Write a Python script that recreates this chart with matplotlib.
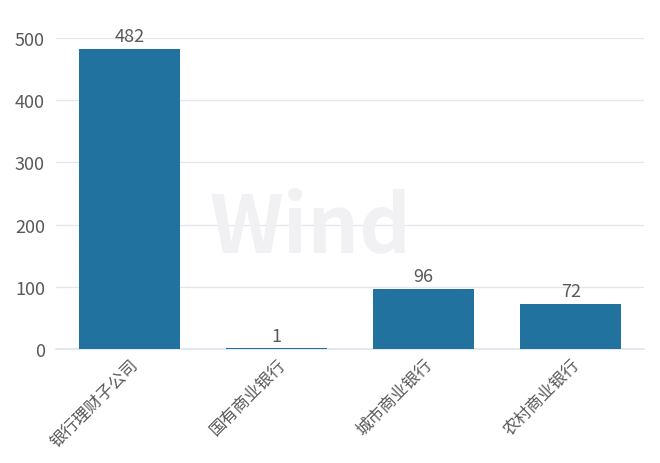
import matplotlib
matplotlib.use("Agg")
import matplotlib.pyplot as plt

categories = ["银行理财子公司", "国有商业银行", "城市商业银行", "农村商业银行"]
values = [482, 1, 96, 72]
yticks = [0, 100, 200, 300, 400, 500]

plt.rcParams["font.family"] = ["Noto Sans CJK SC", "DejaVu Sans"]
TXT = "#595959"
BAR = "#2272a0"

fig = plt.figure(figsize=(6.6, 4.64), dpi=100)
ax = fig.add_axes([0.085, 0.246, 0.891, 0.670])

# watermark (kept just above the "96" label)
fig.text(0.47, 0.505, "Wind", fontsize=58, fontweight="bold", color="#f1f1f3",
         ha="center", va="center", zorder=0)

x = range(len(categories))
ax.bar(x, values, width=0.69, color=BAR, zorder=3)
for xi, v in zip(x, values):
    ax.text(xi, v + 6, f"{v}", ha="center", va="bottom", fontsize=13,
            color=TXT, clip_on=False, zorder=4)

ax.set_xlim(-0.5, len(categories) - 0.5)
ax.set_ylim(0, 500)
ax.set_yticks(yticks)
ax.set_yticklabels([str(t) for t in yticks], fontsize=13, color=TXT)
ax.set_xticks(list(x))
ax.set_xticklabels(categories, rotation=45, ha="right", rotation_mode="anchor",
                   fontsize=12, color=TXT)
ax.tick_params(axis="y", length=0, pad=8)
ax.tick_params(axis="x", length=0, pad=5)
ax.grid(axis="y", color="#e3e6ee", linewidth=0.9, zorder=0)
for s in ["top", "right", "left"]:
    ax.spines[s].set_visible(False)
ax.spines["bottom"].set_color("#dde3ee")
ax.spines["bottom"].set_linewidth(1.2)
ax.patch.set_alpha(0)

fig.savefig("out.png", dpi=100)
